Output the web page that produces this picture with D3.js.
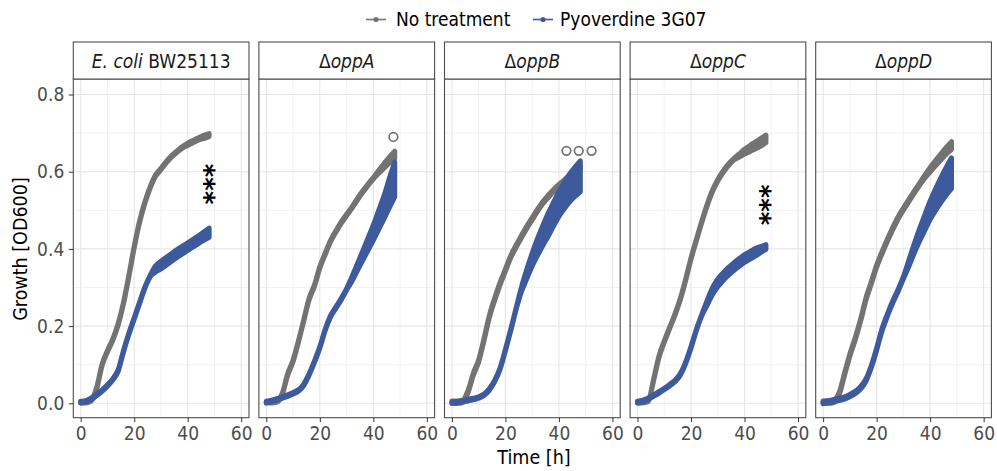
<!DOCTYPE html>
<html>
<head>
<meta charset="utf-8">
<script src="https://cdn.jsdelivr.net/npm/d3@7"></script>
<style>
  body { margin: 0; background: #fff; }
  svg { font-family: "DejaVu Sans Condensed", "DejaVu Sans", sans-serif; }
</style>
</head>
<body>
<div id="chart"></div>
<script>
// sampling times (h)
var hours = [0, 2, 4, 6, 8, 10, 12, 14, 16, 18, 20, 22, 24, 26, 28, 30, 32, 34, 36, 38, 40, 42, 44, 46, 48];

var strains = ["wt", "oppA", "oppB", "oppC", "oppD"];
var seriesNames = ["No treatment", "Pyoverdine 3G07"];

// mean OD600, no treatment (one row per strain)
var noTreat = [
  [0.003, 0.003, 0.008, 0.04, 0.10, 0.135, 0.165, 0.205, 0.26, 0.33, 0.405, 0.47, 0.52, 0.56, 0.59, 0.607, 0.625, 0.64, 0.652, 0.663, 0.671, 0.678, 0.685, 0.69, 0.695],
  [0.003, 0.003, 0.005, 0.025, 0.075, 0.11, 0.16, 0.215, 0.27, 0.305, 0.352, 0.387, 0.42, 0.445, 0.468, 0.488, 0.507, 0.528, 0.548, 0.566, 0.583, 0.60, 0.615, 0.63, 0.643],
  [0.003, 0.003, 0.005, 0.03, 0.075, 0.11, 0.165, 0.225, 0.27, 0.31, 0.345, 0.38, 0.407, 0.432, 0.456, 0.478, 0.50, 0.52, 0.536, 0.551, 0.564, 0.576, 0.588, 0.598, 0.61],
  [0.003, 0.003, 0.006, 0.06, 0.12, 0.16, 0.195, 0.23, 0.27, 0.32, 0.375, 0.423, 0.47, 0.513, 0.55, 0.578, 0.60, 0.618, 0.632, 0.642, 0.652, 0.66, 0.668, 0.676, 0.685],
  [0.003, 0.003, 0.005, 0.025, 0.075, 0.125, 0.167, 0.215, 0.27, 0.312, 0.355, 0.39, 0.422, 0.452, 0.48, 0.503, 0.525, 0.546, 0.567, 0.587, 0.605, 0.622, 0.638, 0.654, 0.668]
];
var noTreatSd = [
  [0.002, 0.002, 0.002, 0.002, 0.002, 0.002, 0.002, 0.002, 0.002, 0.002, 0.002, 0.002, 0.002, 0.002, 0.002, 0.002, 0.002, 0.002, 0.002, 0.002, 0.003, 0.003, 0.003, 0.004, 0.004],
  [0.002, 0.002, 0.002, 0.002, 0.002, 0.002, 0.002, 0.002, 0.002, 0.002, 0.002, 0.002, 0.002, 0.002, 0.002, 0.002, 0.002, 0.002, 0.002, 0.002, 0.002, 0.004, 0.006, 0.008, 0.01],
  [0.003, 0.003, 0.003, 0.003, 0.003, 0.003, 0.003, 0.003, 0.003, 0.003, 0.003, 0.003, 0.003, 0.003, 0.003, 0.003, 0.003, 0.003, 0.003, 0.003, 0.003, 0.003, 0.003, 0.003, 0.003],
  [0.002, 0.002, 0.002, 0.002, 0.002, 0.002, 0.002, 0.002, 0.002, 0.002, 0.002, 0.002, 0.002, 0.002, 0.002, 0.002, 0.002, 0.002, 0.002, 0.004, 0.006, 0.008, 0.009, 0.01, 0.01],
  [0.003, 0.003, 0.003, 0.003, 0.003, 0.003, 0.003, 0.003, 0.003, 0.003, 0.003, 0.003, 0.003, 0.003, 0.003, 0.003, 0.003, 0.003, 0.003, 0.004, 0.006, 0.007, 0.008, 0.009, 0.01]
];

// mean OD600, pyoverdine 3G07
var pyo = [
  [0.003, 0.005, 0.012, 0.022, 0.033, 0.046, 0.062, 0.085, 0.135, 0.18, 0.22, 0.26, 0.30, 0.33, 0.348, 0.358, 0.368, 0.378, 0.388, 0.397, 0.406, 0.415, 0.424, 0.433, 0.442],
  [0.003, 0.006, 0.01, 0.015, 0.02, 0.026, 0.033, 0.048, 0.075, 0.108, 0.145, 0.19, 0.225, 0.248, 0.27, 0.295, 0.322, 0.352, 0.382, 0.412, 0.442, 0.475, 0.508, 0.545, 0.58],
  [0.002, 0.003, 0.005, 0.008, 0.011, 0.015, 0.022, 0.036, 0.058, 0.09, 0.138, 0.19, 0.245, 0.295, 0.335, 0.372, 0.405, 0.435, 0.463, 0.49, 0.516, 0.538, 0.558, 0.574, 0.588],
  [0.003, 0.006, 0.012, 0.02, 0.028, 0.037, 0.047, 0.058, 0.075, 0.105, 0.145, 0.19, 0.228, 0.26, 0.29, 0.312, 0.328, 0.342, 0.354, 0.365, 0.375, 0.383, 0.391, 0.398, 0.405],
  [0.002, 0.004, 0.007, 0.01, 0.014, 0.02, 0.028, 0.04, 0.06, 0.095, 0.14, 0.19, 0.228, 0.262, 0.292, 0.325, 0.362, 0.40, 0.435, 0.468, 0.50, 0.527, 0.552, 0.575, 0.596]
];
var pyoSd = [
  [0.002, 0.002, 0.002, 0.002, 0.002, 0.002, 0.002, 0.002, 0.002, 0.002, 0.002, 0.002, 0.002, 0.002, 0.008, 0.01, 0.01, 0.01, 0.01, 0.01, 0.01, 0.01, 0.01, 0.011, 0.012],
  [0.002, 0.002, 0.002, 0.002, 0.002, 0.002, 0.002, 0.002, 0.002, 0.002, 0.002, 0.002, 0.002, 0.002, 0.002, 0.002, 0.006, 0.009, 0.012, 0.016, 0.02, 0.025, 0.03, 0.038, 0.045],
  [0.002, 0.002, 0.002, 0.002, 0.002, 0.002, 0.002, 0.002, 0.002, 0.002, 0.002, 0.002, 0.002, 0.006, 0.012, 0.017, 0.022, 0.026, 0.03, 0.031, 0.032, 0.034, 0.036, 0.038, 0.04],
  [0.002, 0.002, 0.002, 0.002, 0.002, 0.002, 0.002, 0.002, 0.002, 0.002, 0.002, 0.002, 0.002, 0.006, 0.009, 0.01, 0.01, 0.01, 0.01, 0.01, 0.01, 0.01, 0.01, 0.008, 0.006],
  [0.003, 0.003, 0.003, 0.003, 0.003, 0.003, 0.003, 0.003, 0.003, 0.003, 0.003, 0.003, 0.003, 0.003, 0.003, 0.003, 0.008, 0.012, 0.016, 0.02, 0.024, 0.028, 0.032, 0.036, 0.04]
];

// significance marks, in data coords (hour, OD600)
var starMarks = [[48, 0.568], null, null, [47.7, 0.514], null];
var circleMarks = [[], [[47.5, 0.69]], [[42.8, 0.654], [47.4, 0.654], [52.2, 0.654]], [], []];

var xTicks = [0, 20, 40, 60];
var xMinor = [10, 30, 50];
var yTicks = [0, 0.2, 0.4, 0.6, 0.8];
var yMinor = [0.1, 0.3, 0.5, 0.7];

var colors = ["#737373", "#3c5a9c"];

var width = 997, height = 471;
var panelLeft = 73.3, panelW = 175.7, panelStep = 185.6;
var stripTop = 42, plotTop = 79, plotBottom = 417.7;
var plotH = plotBottom - plotTop;

var x = d3.scaleLinear().domain([-2.77, 62.9]).range([0, panelW]);
var y = d3.scaleLinear().domain([-0.0373, 0.8402]).range([plotH, 0]);

var svg = d3.select("#chart").append("svg")
    .attr("width", width)
    .attr("height", height);

svg.append("rect").attr("width", width).attr("height", height).attr("fill", "#fff");

var band = d3.area()
    .x(function(d) { return x(d.t); })
    .y0(function(d) { return y(d.m - d.s); })
    .y1(function(d) { return y(d.m + d.s); })
    .curve(d3.curveMonotoneX);

strains.forEach(function(s, i) {
  var g = svg.append("g")
      .attr("transform", "translate(" + (panelLeft + i * panelStep) + "," + plotTop + ")");

  // grid
  g.selectAll(".xminor").data(xMinor).enter().append("line")
      .attr("x1", x).attr("x2", x).attr("y1", 0).attr("y2", plotH)
      .attr("stroke", "#f2f2f2").attr("stroke-width", 1);
  g.selectAll(".yminor").data(yMinor).enter().append("line")
      .attr("x1", 0).attr("x2", panelW).attr("y1", y).attr("y2", y)
      .attr("stroke", "#f2f2f2").attr("stroke-width", 1);
  g.selectAll(".xmajor").data(xTicks).enter().append("line")
      .attr("x1", x).attr("x2", x).attr("y1", 0).attr("y2", plotH)
      .attr("stroke", "#e6e6e6").attr("stroke-width", 1.1);
  g.selectAll(".ymajor").data(yTicks).enter().append("line")
      .attr("x1", 0).attr("x2", panelW).attr("y1", y).attr("y2", y)
      .attr("stroke", "#e6e6e6").attr("stroke-width", 1.1);

  // curves
  [noTreat, pyo].forEach(function(means, k) {
    var sds = k === 0 ? noTreatSd : pyoSd;
    var pts = hours.map(function(t, j) {
      return {t: t, m: means[i][j], s: sds[i][j]};
    });
    g.append("path")
        .datum(pts)
        .attr("d", band)
        .attr("fill", colors[k])
        .attr("stroke", colors[k])
        .attr("stroke-width", 5)
        .attr("stroke-linejoin", "round");
  });

  // significance
  if (starMarks[i]) {
    g.append("text")
        .attr("transform", "translate(" + x(starMarks[i][0]) + "," + y(starMarks[i][1]) + ") rotate(-90)")
        .attr("text-anchor", "middle")
        .attr("dy", "0.52em")
        .style("font-family", "DejaVu Sans")
        .style("font-size", "26px")
        .style("font-weight", "bold")
        .attr("fill", "#000")
        .text("***");
  }
  g.selectAll(".circ").data(circleMarks[i]).enter().append("circle")
      .attr("cx", function(d) { return x(d[0]); })
      .attr("cy", function(d) { return y(d[1]); })
      .attr("r", 4.3)
      .attr("fill", "none")
      .attr("stroke", "#737373")
      .attr("stroke-width", 1.7);

  // border
  g.append("rect")
      .attr("width", panelW).attr("height", plotH)
      .attr("fill", "none").attr("stroke", "#4d4d4d").attr("stroke-width", 1.1);

  // strip
  g.append("rect")
      .attr("y", stripTop - plotTop).attr("width", panelW).attr("height", plotTop - stripTop)
      .attr("fill", "#fff").attr("stroke", "#4d4d4d").attr("stroke-width", 1.1);
  var lab = g.append("text")
      .attr("x", panelW / 2).attr("y", stripTop - plotTop + 25.5)
      .attr("text-anchor", "middle")
      .style("font-size", "19px")
      .attr("fill", "#1a1a1a");
  if (i === 0) {
    lab.append("tspan").style("font-style", "italic").text("E. coli");
    lab.append("tspan").text(" BW25113");
  } else {
    lab.append("tspan").text("\u0394");
    lab.append("tspan").style("font-style", "italic").text(s);
  }

  // x axis
  var xa = g.append("g")
      .attr("transform", "translate(0," + plotH + ")")
      .call(d3.axisBottom(x).tickValues(xTicks).tickSize(4.5).tickPadding(4.5));
  xa.select(".domain").remove();
  xa.selectAll("line").attr("stroke", "#333");
  xa.selectAll("text").attr("fill", "#4d4d4d").style("font-size", "19px")
      .style("font-family", "DejaVu Sans Condensed, DejaVu Sans, sans-serif");

  if (i === 0) {
    var ya = g.append("g")
        .call(d3.axisLeft(y).tickValues(yTicks).tickFormat(d3.format(".1f")).tickSize(4.5).tickPadding(4.5));
    ya.select(".domain").remove();
    ya.selectAll("line").attr("stroke", "#333");
    ya.selectAll("text").attr("fill", "#4d4d4d").style("font-size", "19px")
        .style("font-family", "DejaVu Sans Condensed, DejaVu Sans, sans-serif");
  }
});

// axis titles
svg.append("text")
    .attr("x", 534).attr("y", 464)
    .attr("text-anchor", "middle")
    .style("font-size", "19.5px")
    .text("Time [h]");
svg.append("text")
    .attr("transform", "translate(27,249) rotate(-90)")
    .attr("text-anchor", "middle")
    .style("font-size", "19.5px")
    .text("Growth [OD600]");

// legend
var legendX = [366, 533];
var legendTextX = [396, 560];
seriesNames.forEach(function(name, k) {
  var lg = svg.append("g");
  lg.append("line")
      .attr("x1", legendX[k]).attr("x2", legendX[k] + 20)
      .attr("y1", 19.5).attr("y2", 19.5)
      .attr("stroke", colors[k]).attr("stroke-width", 1.6);
  lg.append("circle")
      .attr("cx", legendX[k] + 10).attr("cy", 19.5).attr("r", 2.6)
      .attr("fill", colors[k]);
  lg.append("text")
      .attr("x", legendTextX[k]).attr("y", 26)
      .style("font-size", "19px")
      .attr("fill", "#000")
      .text(name);
});
</script>
</body>
</html>
